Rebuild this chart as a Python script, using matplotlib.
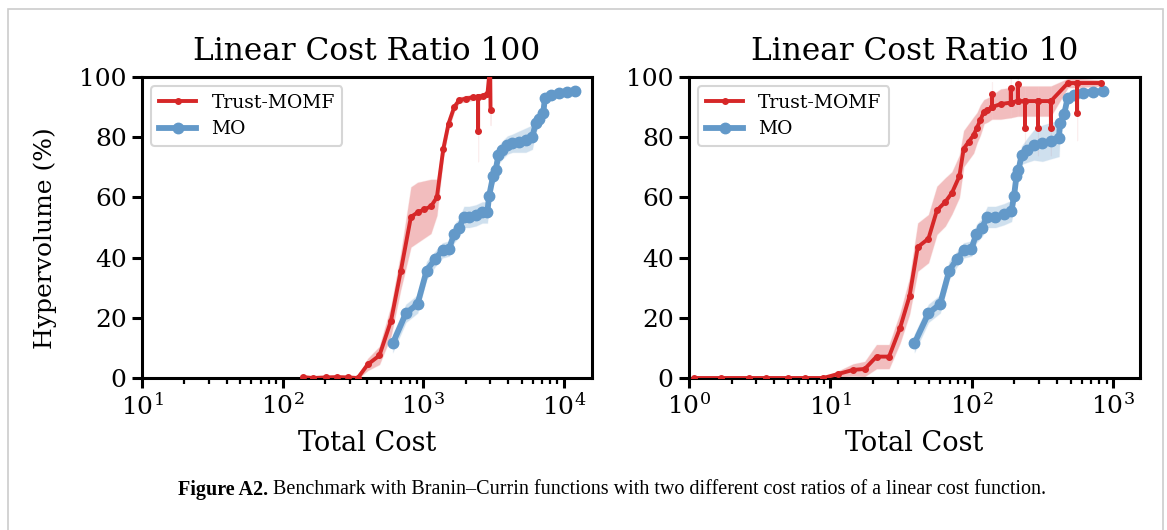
import matplotlib
matplotlib.use("Agg")
import matplotlib.pyplot as plt
import numpy as np
from matplotlib.patches import Rectangle

# ---------------- data ----------------
titles = ["Linear Cost Ratio 100", "Linear Cost Ratio 10"]
series_names = ["Trust-MOMF", "MO"]

# Left panel (ratio 100)
l_red_x = [139, 164, 204, 245, 290, 342, 403, 488, 590, 692, 817, 911, 1016, 1133,
           1250, 1387, 1513, 1660, 1800, 2000, 2240, 2455, 2455, 2455, 2640, 2860,
           2990, 3010]
l_red_y = [0.3, 0, 0.2, 0.3, 0.2, 0, 4.5, 7.5, 19, 35.5, 53.5, 55, 56, 57,
           60, 76, 84.5, 90, 92.3, 92.8, 93.2, 93.3, 82, 93.4, 93.7, 94.3,
           104, 89]
l_red_s = [0.2, 0.2, 0.2, 0.2, 0.2, 0.3, 2, 3, 5, 6, 10, 10, 9.5, 9,
           6, 3, 2, 1.5, 1, 1, 1, 1, 10, 1, 1, 1,
           2, 5]

l_blue_x = [607, 753, 911, 1057, 1217, 1371, 1528, 1660, 1800, 1950, 2120, 2362, 2630,
            2856, 2937, 3135, 3273, 3420, 3650, 3970, 4310, 4790, 5350, 5960, 6300,
            6610, 7130, 7330, 8040, 9220, 10570, 12030]
l_blue_y = [11.5, 21.5, 24.6, 35.7, 39.6, 42.4, 43, 48, 50, 53.5, 53.5, 54, 55,
            55, 60.4, 67, 69, 74, 75.7, 77.4, 78, 78.5, 79, 80, 84.6,
            86.2, 87.9, 93, 94, 94.8, 95.1, 95.3]
l_blue_s = [3, 3, 3, 3, 2.5, 2.5, 2.5, 3, 3, 3.5, 3.5, 3.5, 3.5,
            3.5, 3, 3, 3, 3, 3, 3, 3, 3.5, 4, 4, 3,
            2.5, 2.5, 1.5, 1.5, 1.5, 1, 1]

# Right panel (ratio 10)
r_red_x = [1.09, 1.68, 2.67, 3.5, 5.0, 6.6, 8.9, 11.3, 14.5, 17.5, 21.2, 26, 31.1, 36.3,
           41.5, 49.4, 56.7, 65, 72.4, 81.7, 87.7, 95.2, 103, 109, 115, 122, 129,
           139, 139, 139, 160, 189, 189, 189, 212, 212, 212,
           238, 238, 238, 294, 294, 294, 363, 363, 363,
           479, 556, 556, 556, 822]
r_red_y = [0, 0, 0, 0, 0, 0, 0, 1.3, 2.7, 3, 7.1, 7.1, 16.6, 27.2,
           43.5, 46.3, 55.7, 58.5, 61.5, 67, 76.2, 78.5, 80.7, 83.2, 85.7, 88.5, 89,
           90, 94.3, 90, 91, 91.5, 96.3, 91.5, 92, 97.7, 92,
           92, 83, 92, 92, 83, 92, 92, 83, 92,
           98, 98, 88, 98, 98]
r_red_s = [0.1, 0.1, 0.1, 0.1, 0.1, 0.1, 0.3, 1, 2, 2.5, 4, 4, 5, 6,
           8, 8, 8, 8, 7, 7, 6, 6, 6, 5, 5, 4, 4,
           4, 4, 4, 5, 5, 5, 5, 5, 5, 5,
           5, 9, 5, 5, 9, 5, 5, 9, 5,
           1.5, 1.5, 9, 1.5, 1]

r_blue_x = [39.3, 49.4, 59.8, 69.3, 78.7, 87.7, 99.5, 108, 118, 129, 147, 169, 191,
            199, 207, 214, 225, 247, 275, 316, 361, 414, 420, 451, 476, 531, 609,
            717, 850]
r_blue_y = [11.5, 21.5, 24.6, 35.7, 39.6, 42.4, 43, 48, 50, 53.5, 53.5, 54.4, 55.5,
            60.4, 67, 69, 74, 75.7, 77.4, 78, 78.8, 79.6, 84.6, 87.7, 93, 94, 94.8,
            95.1, 95.3]
r_blue_s = [3, 3, 3, 3, 2.5, 2.5, 2.5, 3, 3, 3.5, 3.5, 3.5, 3.5,
            3, 3, 3, 3, 4, 5, 6, 6, 6, 4, 3, 1.5, 1.5, 1.5, 1, 1]

x_limits = [(10, 10 ** 4.2), (1, 10 ** 3.19)]
y_ticks = [0, 20, 40, 60, 80, 100]

caption_bold = "Figure A2."
caption_rest = "Benchmark with Branin\u2013Currin functions with two different cost ratios of a linear cost function."

# ---------------- style ----------------
RED = "#d62728"
BLUE = "#6399c9"
plt.rcParams["font.family"] = ["DejaVu Serif"]
plt.rcParams["mathtext.fontset"] = "dejavuserif"

W, H = 1167, 530
fig = plt.figure(figsize=(W / 100, H / 100), dpi=100)

# outer frame like the page screenshot
fig.patches.append(Rectangle((8 / W, -0.1), (1163 - 8) / W, 1.1 - 9 / H,
                             transform=fig.transFigure, fill=False,
                             edgecolor="#cccccc", linewidth=1.2))

ax_l = fig.add_axes([142 / W, (H - 378) / H, 450 / W, 301 / H])
ax_r = fig.add_axes([689 / W, (H - 378) / H, 451 / W, 301 / H])

panels = [
    (ax_l, l_red_x, l_red_y, l_red_s, l_blue_x, l_blue_y, l_blue_s),
    (ax_r, r_red_x, r_red_y, r_red_s, r_blue_x, r_blue_y, r_blue_s),
]

for i, (ax, rx, ry, rs, bx, by, bs) in enumerate(panels):
    rx, ry, rs = np.array(rx), np.array(ry), np.array(rs)
    bx, by, bs = np.array(bx), np.array(by), np.array(bs)
    ax.fill_between(rx, ry - rs, ry + rs, color=RED, alpha=0.3, linewidth=0.8,
                    edgecolor="#f3c9c9")
    ax.fill_between(bx, by - bs, by + bs, color=BLUE, alpha=0.3, linewidth=0.8,
                    edgecolor="#d5e4f1")
    ax.plot(rx, ry, color=RED, linewidth=2.8, marker="o", markersize=4,
            label=series_names[0], zorder=4)
    ax.plot(bx, by, color=BLUE, linewidth=4.2, marker="o", markersize=7.5,
            label=series_names[1], zorder=3)
    ax.set_xscale("log")
    ax.set_xlim(*x_limits[i])
    ax.set_ylim(0, 100)
    ax.set_yticks(y_ticks)
    ax.set_title(titles[i], fontsize=22.5, pad=12)
    ax.set_xlabel("Total Cost", fontsize=19.5)
    ax.xaxis.set_label_coords(0.5, -0.172)
    for s in ax.spines.values():
        s.set_linewidth(2.2)
    ax.tick_params(axis="both", which="major", labelsize=18, length=7, width=2.2,
                   direction="out", pad=4)
    ax.tick_params(axis="x", which="minor", length=4, width=1.6, direction="out")
    leg = ax.legend(loc="upper left", fontsize=13.5, frameon=True, fancybox=True,
                    borderpad=0.4, handlelength=2.0, labelspacing=0.45,
                    bbox_to_anchor=(0.0, 1.0))
    leg.get_frame().set_linewidth(1.5)
    leg.get_frame().set_edgecolor("#cccccc")

ax_l.set_ylabel("Hypervolume (%)", fontsize=18)
ax_l.yaxis.set_label_coords(-0.19, 0.465)

cap_y = 1 - 490 / H
t1 = fig.text(178 / W, cap_y, caption_bold, fontsize=14.5, fontweight="bold",
              family="Liberation Serif", ha="left", va="center")
renderer = fig.canvas.get_renderer()
bb = t1.get_window_extent(renderer=renderer)
fig.text(bb.x1 / W + 5 / W, cap_y, caption_rest, fontsize=14.5,
         family="Liberation Serif", ha="left", va="center")

fig.savefig("out.png", dpi=100)
